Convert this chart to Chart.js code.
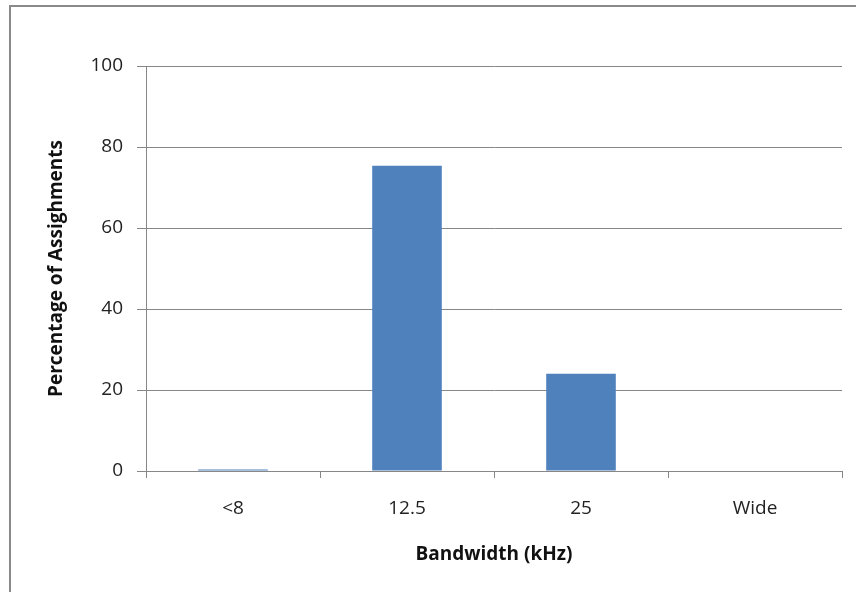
<!DOCTYPE html>
<html>
<head>
<meta charset="utf-8">
<script src="https://cdn.jsdelivr.net/npm/chart.js@4.4.1/dist/chart.umd.min.js"></script>
<style>
  html, body { margin: 0; padding: 0; background: #fff; }
  #wrap { position: relative; width: 856px; height: 592px; overflow: hidden; }
  #frame { position: absolute; left: 9px; top: 5px; width: 860px; height: 600px; border: 2px solid #8a8a8a; box-sizing: border-box; pointer-events: none; }
  canvas { position: absolute; left: 0; top: 0; }
</style>
</head>
<body>
<div id="wrap">
  <canvas id="chart" width="856" height="592"></canvas>
  <div id="frame"></div>
</div>
<script>
const categories = ['<8', '12.5', '25', 'Wide'];
const percentages = [0.4, 75.4, 24.0, 0];
const yTicks = [0, 20, 40, 60, 80, 100];

const family = '"Open Sans", "Noto Sans", sans-serif';
const tickFont = { family: family, size: 19 };
const titleFont = { family: family, size: 19, weight: 'bold' };

new Chart(document.getElementById('chart'), {
  type: 'bar',
  data: {
    labels: categories,
    datasets: [{
      label: 'Percentage of Assighments',
      data: percentages,
      backgroundColor: '#4f81bd',
      borderWidth: 0,
      barPercentage: 0.4,
      categoryPercentage: 1
    }]
  },
  options: {
    responsive: false,
    animation: false,
    layout: { padding: { left: 0, top: 66, right: 14, bottom: 0 } },
    plugins: {
      legend: { display: false },
      tooltip: { enabled: false }
    },
    scales: {
      x: {
        offset: true,
        afterFit: (scale) => { scale.height = 121; },
        grid: {
          offset: true,
          drawOnChartArea: false,
          drawTicks: true,
          tickLength: 7,
          color: '#878787'
        },
        border: { color: '#878787', width: 1 },
        ticks: { color: '#222', font: tickFont, padding: 19 },
        title: {
          display: true,
          text: 'Bandwidth (kHz)',
          color: '#111',
          font: titleFont,
          padding: { top: 0, bottom: 26 }
        }
      },
      y: {
        min: 0,
        max: 100,
        afterBuildTicks: (scale) => { scale.ticks = yTicks.map(v => ({ value: v })); },
        afterFit: (scale) => { scale.width = 146; },
        grid: { color: '#878787', tickLength: 9 },
        border: { color: '#878787', width: 1 },
        ticks: { color: '#222', font: tickFont, padding: 14 },
        title: {
          display: true,
          text: 'Percentage of Assighments',
          color: '#111',
          font: titleFont,
          padding: { top: 45, bottom: 0 }
        }
      }
    }
  }
});
</script>
</body>
</html>
